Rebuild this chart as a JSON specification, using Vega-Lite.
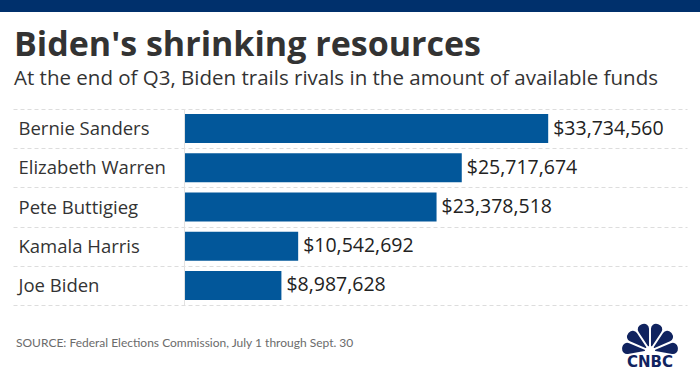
{
  "$schema": "https://vega.github.io/schema/vega-lite/v6.json",
  "padding": 0,
  "background": "white",
  "config": {"view": {"stroke": null}},
  "spacing": 16,
  "center": true,
  "datasets": {
    "candidates": [
      {"name": "Bernie Sanders", "amount": 33734560},
      {"name": "Elizabeth Warren", "amount": 25717674},
      {"name": "Pete Buttigieg", "amount": 23378518},
      {"name": "Kamala Harris", "amount": 10542692},
      {"name": "Joe Biden", "amount": 8987628}
    ],
    "feathers": [
      {"feather": 1, "share": 1},
      {"feather": 2, "share": 1},
      {"feather": 3, "share": 1},
      {"feather": 4, "share": 1},
      {"feather": 5, "share": 1},
      {"feather": 6, "share": 1}
    ]
  },
  "vconcat": [
    {
      "width": 700,
      "height": 12,
      "data": {"values": [{}]},
      "mark": {"type": "bar", "color": "#00306c"},
      "encoding": {}
    },
    {
      "width": 674,
      "height": 196,
      "title": {
        "text": "Biden's shrinking resources",
        "subtitle": "At the end of Q3, Biden trails rivals in the amount of available funds",
        "anchor": "start",
        "frame": "group",
        "dx": 1,
        "font": "Open Sans",
        "fontSize": 34,
        "fontWeight": "bold",
        "color": "#333333",
        "subtitleFont": "Open Sans",
        "subtitleFontSize": 20.5,
        "subtitleColor": "#333333",
        "subtitlePadding": 6,
        "offset": 11
      },
      "data": {"name": "candidates"},
      "layer": [
        {
          "mark": {"type": "bar", "color": "#02579a", "height": {"band": 0.74}},
          "encoding": {
            "y": {
              "field": "name",
              "type": "nominal",
              "sort": null,
              "scale": {"paddingInner": 0, "paddingOuter": 0},
              "axis": {
                "title": null,
                "domain": false,
                "ticks": false,
                "labelAlign": "left",
                "labelPadding": -5,
                "labelFont": "Open Sans",
                "labelFontSize": 18.5,
                "labelColor": "#333333",
                "grid": true,
                "gridDash": [4, 3],
                "gridColor": "#dddddd",
                "tickBand": "extent"
              }
            },
            "x": {
              "field": "amount",
              "type": "quantitative",
              "scale": {"domain": [-15910000, 46610000], "nice": false, "zero": false},
              "axis": null
            }
          }
        },
        {
          "mark": {"type": "text", "align": "left", "baseline": "middle", "dx": 5, "font": "Open Sans", "fontSize": 19.5, "color": "#222222"},
          "encoding": {
            "y": {"field": "name", "type": "nominal", "sort": null},
            "x": {"field": "amount", "type": "quantitative"},
            "text": {"field": "amount", "type": "quantitative", "format": "$,.0f"}
          }
        },
        {
          "data": {"values": [{}]},
          "mark": {"type": "rule", "color": "#e2e2e2", "strokeWidth": 1},
          "encoding": {"x": {"datum": 0, "type": "quantitative"}}
        }
      ]
    },
    {
      "width": 700,
      "height": 54,
      "layer": [
        {
          "data": {"values": [{}]},
          "mark": {"type": "text", "text": "SOURCE: Federal Elections Commission, July 1 through Sept. 30", "align": "left", "baseline": "alphabetic", "font": "Lato", "fontSize": 12, "color": "#6b6b6b"},
          "encoding": {
            "x": {"datum": 16, "type": "quantitative", "scale": {"domain": [0, 700], "nice": false, "zero": false}, "axis": null},
            "y": {"datum": 25, "type": "quantitative", "scale": {"domain": [0, 54], "nice": false, "zero": false, "reverse": true}, "axis": null}
          }
        },
        {
          "data": {"name": "feathers"},
          "mark": {"type": "arc", "radius": 28, "radius2": 5, "padAngle": 0.07, "cornerRadius": 5, "color": "#10235f"},
          "encoding": {
            "theta": {"field": "share", "type": "quantitative", "stack": true, "scale": {"range": [-1.75, 1.75]}},
            "order": {"field": "feather"},
            "x": {"datum": 650, "type": "quantitative"},
            "y": {"datum": 29, "type": "quantitative"}
          }
        },
        {
          "data": {"values": [{}]},
          "mark": {"type": "text", "text": "CNBC", "align": "center", "baseline": "alphabetic", "font": "DejaVu Sans", "fontSize": 15, "fontWeight": "bold", "color": "#10235f"},
          "encoding": {
            "x": {"datum": 650, "type": "quantitative"},
            "y": {"datum": 45, "type": "quantitative"}
          }
        }
      ]
    }
  ]
}
